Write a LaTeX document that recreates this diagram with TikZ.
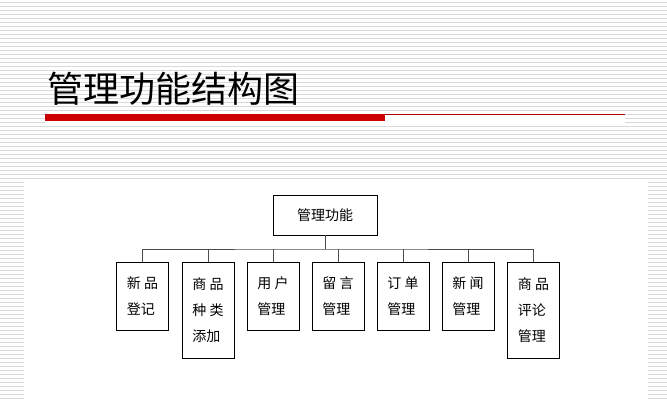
\documentclass[tikz,border=0pt]{standalone}
\usepackage{fontspec}
\newfontfamily\cjk{Noto Sans CJK SC}
\begin{document}
\begin{tikzpicture}[x=1pt,y=-1pt,
  box/.style={draw,line width=0.9pt,fill=white,minimum width=52pt,anchor=north,align=left,font=\cjk\fontsize{14}{26}\selectfont,inner sep=3pt},
  conn/.style={draw=black!70,line width=0.8pt}]
\useasboundingbox (0,0) rectangle (667,400);
\fill[white] (0,0) rectangle (667,400);
\foreach \y in {2,6,...,398} \draw[black!15,line width=1pt] (0,\y) -- (667,\y);
\fill[white] (24,180) rectangle (648,400);
\node[anchor=base west,font=\cjk\fontsize{36}{40}\selectfont,inner sep=0] (title) at (47,102) {管理功能结构图};
\fill[white] (45,113) rectangle (625,123);
\fill[red!80!black] (45,114) rectangle (385,121);
\draw[red!70!black,line width=0.8pt] (385,114.5) -- (625,114.5);
\node[draw,line width=0.9pt,minimum width=104pt,minimum height=40pt,font=\cjk\fontsize{14}{16}\selectfont] (root) at (325,215) {管理功能};
\node[box,minimum height=68pt] (a) at (142.5,262) {新 品\\登记};
\node[box,minimum height=96pt] (b) at (208,262) {商 品\\种 类\\添加};
\node[box,minimum height=68pt] (c) at (273,262) {用 户\\管理};
\node[box,minimum height=68pt] (d) at (338,262) {留 言\\管理};
\node[box,minimum height=68pt] (e) at (403,262) {订 单\\管理};
\node[box,minimum height=68pt] (f) at (468,262) {新 闻\\管理};
\node[box,minimum height=96pt] (g) at (533.5,262) {商 品\\评论\\管理};
\coordinate (m) at (325,249);
\draw[conn] (root.south) -- (m);
\draw[conn] (a.north) |- (m) -| (g.north);
\foreach \n in {b,c,d,e,f} \draw[conn] (\n.north) -- (\n.north |- m);
\end{tikzpicture}
\end{document}
